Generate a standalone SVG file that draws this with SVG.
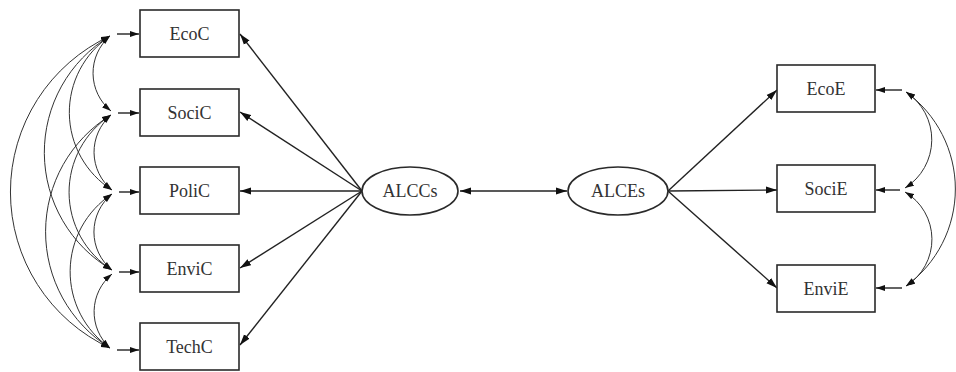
<svg xmlns="http://www.w3.org/2000/svg" width="956" height="372" viewBox="0 0 956 372">
<style>
.box{fill:#fff;stroke:#2a2a2a;stroke-width:1.6}
.ell{fill:#fff;stroke:#2a2a2a;stroke-width:1.6}
.lbl{font-family:"Liberation Serif",serif;font-size:18px;fill:#333;text-anchor:middle;dominant-baseline:central}
.ln{fill:none;stroke:#222;stroke-width:1.4}
.cv{fill:none;stroke:#333;stroke-width:1}
</style>
<defs>
<marker id="ah" markerUnits="userSpaceOnUse" markerWidth="11" markerHeight="8" refX="11" refY="4" orient="auto-start-reverse"><path d="M0,0.5 L11,4 L0,7.5 z" fill="#111"/></marker>
<marker id="ahs" markerUnits="userSpaceOnUse" markerWidth="9" markerHeight="7" refX="9" refY="3.5" orient="auto-start-reverse"><path d="M0,0.5 L9,3.5 L0,6.5 z" fill="#111"/></marker>
</defs>
<rect width="956" height="372" fill="#fff"/>
<g id="connectors">
<line class="ln" x1="362" y1="191" x2="240" y2="34" marker-end="url(#ah)"/>
<line class="ln" x1="362" y1="191" x2="240" y2="112" marker-end="url(#ah)"/>
<line class="ln" x1="362" y1="191" x2="240" y2="191" marker-end="url(#ah)"/>
<line class="ln" x1="362" y1="191" x2="240" y2="268" marker-end="url(#ah)"/>
<line class="ln" x1="362" y1="191" x2="240" y2="345" marker-end="url(#ah)"/>
<line class="ln" x1="460" y1="191" x2="567" y2="191" marker-start="url(#ah)" marker-end="url(#ah)"/>
<line class="ln" x1="668" y1="191" x2="777" y2="90" marker-end="url(#ah)"/>
<line class="ln" x1="668" y1="191" x2="777" y2="190" marker-end="url(#ah)"/>
<line class="ln" x1="668" y1="191" x2="777" y2="288" marker-end="url(#ah)"/>
<line class="ln" x1="117" y1="34" x2="139" y2="34" marker-end="url(#ahs)"/>
<line class="ln" x1="118" y1="113" x2="139" y2="113" marker-end="url(#ahs)"/>
<line class="ln" x1="119" y1="192" x2="139" y2="192" marker-end="url(#ahs)"/>
<line class="ln" x1="119" y1="272" x2="139" y2="272" marker-end="url(#ahs)"/>
<line class="ln" x1="117" y1="350" x2="139" y2="350" marker-end="url(#ahs)"/>
<path class="cv" d="M110,36 A49,49 0 0 0 111,111" marker-start="url(#ahs)" marker-end="url(#ahs)"/>
<path class="cv" d="M110,36 A92,92 0 0 0 112,190" marker-start="url(#ahs)" marker-end="url(#ahs)"/>
<path class="cv" d="M110,36 A136,136 0 0 0 112,270" marker-start="url(#ahs)" marker-end="url(#ahs)"/>
<path class="cv" d="M110,36 A172,172 0 0 0 110,348" marker-start="url(#ahs)" marker-end="url(#ahs)"/>
<path class="cv" d="M111,115 A49,49 0 0 0 112,190" marker-start="url(#ahs)" marker-end="url(#ahs)"/>
<path class="cv" d="M111,115 A92,92 0 0 0 112,270" marker-start="url(#ahs)" marker-end="url(#ahs)"/>
<path class="cv" d="M111,115 A137,137 0 0 0 110,348" marker-start="url(#ahs)" marker-end="url(#ahs)"/>
<path class="cv" d="M112,194 A49,49 0 0 0 112,270" marker-start="url(#ahs)" marker-end="url(#ahs)"/>
<path class="cv" d="M112,194 A93,93 0 0 0 110,348" marker-start="url(#ahs)" marker-end="url(#ahs)"/>
<path class="cv" d="M112,274 A49,49 0 0 0 110,348" marker-start="url(#ahs)" marker-end="url(#ahs)"/>
<line class="ln" x1="902" y1="90" x2="876" y2="90" marker-end="url(#ahs)"/>
<line class="ln" x1="900" y1="190" x2="876" y2="190" marker-end="url(#ahs)"/>
<line class="ln" x1="902" y1="288" x2="876" y2="288" marker-end="url(#ahs)"/>
<path class="cv" d="M906,92 A57,57 0 0 1 905,188" marker-start="url(#ahs)" marker-end="url(#ahs)"/>
<path class="cv" d="M906,92 A120,120 0 0 1 906,286" marker-start="url(#ahs)" marker-end="url(#ahs)"/>
<path class="cv" d="M905,192 A55,55 0 0 1 906,286" marker-start="url(#ahs)" marker-end="url(#ahs)"/>
</g>
<g id="EcoC"><rect class="box" x="140" y="10" width="99" height="47"/><text class="lbl" x="189.5" y="33.5">EcoC</text></g>
<g id="SociC"><rect class="box" x="140" y="89" width="99" height="47"/><text class="lbl" x="189.5" y="112.5">SociC</text></g>
<g id="PoliC"><rect class="box" x="140" y="167" width="99" height="47"/><text class="lbl" x="189.5" y="190.5">PoliC</text></g>
<g id="EnviC"><rect class="box" x="140" y="245" width="99" height="47"/><text class="lbl" x="189.5" y="268.5">EnviC</text></g>
<g id="TechC"><rect class="box" x="140" y="323" width="99" height="47"/><text class="lbl" x="189.5" y="346.5">TechC</text></g>
<g id="ALCCs"><ellipse class="ell" cx="410" cy="191" rx="48" ry="24"/><text class="lbl" x="410" y="191">ALCCs</text></g>
<g id="ALCEs"><ellipse class="ell" cx="618" cy="191" rx="50" ry="24"/><text class="lbl" x="618" y="191">ALCEs</text></g>
<g id="EcoE"><rect class="box" x="777" y="65" width="98" height="47"/><text class="lbl" x="826" y="88.5">EcoE</text></g>
<g id="SociE"><rect class="box" x="777" y="165" width="98" height="47"/><text class="lbl" x="826" y="188.5">SociE</text></g>
<g id="EnviE"><rect class="box" x="777" y="265" width="98" height="47"/><text class="lbl" x="826" y="288.5">EnviE</text></g>
</svg>
